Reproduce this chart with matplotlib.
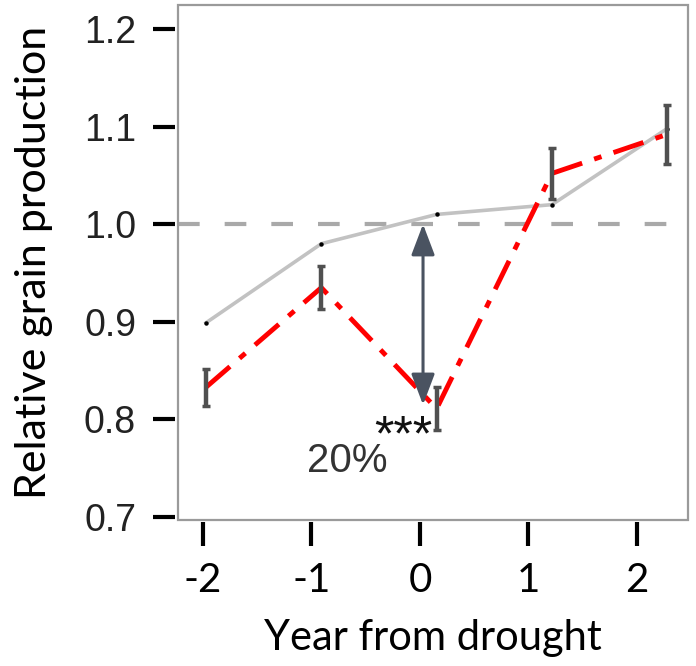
import matplotlib
matplotlib.use("Agg")
import matplotlib.pyplot as plt
from matplotlib.patches import Rectangle

# ---- data ----
years = [-2, -1, 0, 1, 2]
tick_labels = ["-2", "-1", "0", "1", "2"]
baseline = [0.899, 0.980, 1.010, 1.020, 1.098]      # gray line
drought = [0.833, 0.935, 0.811, 1.052, 1.092]       # red dash-dot line
drought_err = [0.019, 0.022, 0.022, 0.026, 0.030]
yticks = [0.7, 0.8, 0.9, 1.0, 1.1, 1.2]
ytick_labels = ["0.7", "0.8", "0.9", "1.0", "1.1", "1.2"]
reference = 1.0
drop_label = "20%"
sig_label = "***"

fig = plt.figure(figsize=(6.96, 6.66), dpi=100)
ax = fig.add_axes([178/696, 1-520/666, (688-178)/696, (520-5)/666])
ax.set_xlim(-2.243, 2.180)
ax.set_ylim(0.697, 1.2245)

for s in ax.spines.values():
    s.set_visible(False)
ax.add_patch(Rectangle((0, 0), 1, 1, transform=ax.transAxes, fill=False,
                       edgecolor="#9a9a9a", lw=1.6, clip_on=False, zorder=5))

# reference dashed line
ax.axhline(reference, color="#a9a9a9", lw=3, dashes=(5.2, 6.0), zorder=1)

# gray baseline
ax.plot(years, baseline, color="#c2c2c2", lw=2.6, zorder=2)
ax.plot(years, baseline, ls="none", marker="o", ms=2.2, color="black", zorder=3)

# red drought line
ax.plot(years, drought, color="#ff0000", lw=3.5, ls=(0, (6.5, 2.6, 1.6, 2.6)), zorder=3)
ax.errorbar(years, drought, yerr=drought_err, fmt="none", ecolor="#505050",
            elinewidth=3.2, capsize=3.2, capthick=2.5, zorder=4)

# arrow
ax.annotate("", xy=(-0.118, reference), xytext=(-0.118, drought[2] + 0.004),
            arrowprops=dict(arrowstyle="<|-|>,head_length=1.9,head_width=0.72",
                            color="#4a5361", lw=2.2, shrinkA=0, shrinkB=0), zorder=4)
ax.text(-0.29, 0.782, sig_label, fontsize=36, family="Liberation Sans",
        color="#111111", ha="center", va="center")
ax.text(-0.777, 0.757, drop_label, fontsize=29, family="Liberation Sans",
        color="#333333", ha="center", va="center")

# y axis
ax.spines["left"].set_position(("outward", 2.2))
ax.set_yticks(yticks)
ax.set_yticklabels(ytick_labels, family="Liberation Sans", fontsize=27, color="#222222")
ax.tick_params(axis="y", direction="out", length=16, width=3, color="black", pad=12)
ax.set_ylabel("Relative grain production", family="Lato", fontsize=31, labelpad=22)

# x axis: ticks on a twin axis
ax.set_xticks([])
ax2 = ax.twiny()
for s in ax2.spines.values():
    s.set_visible(False)
ax2.spines["bottom"].set_position(("outward", 1.5))
ax2.xaxis.set_ticks_position("bottom")
ax2.xaxis.set_label_position("bottom")
ax2.set_xlim(-2.230, 2.470)
ax2.set_xticks(years)
ax2.set_xticklabels(tick_labels, family="Lato", fontsize=29, color="black")
ax2.tick_params(axis="x", direction="out", length=17, width=3, color="black", pad=12)
ax2.set_xlabel("Year from drought", family="Lato", fontsize=30, labelpad=14)

fig.savefig("out.png", dpi=100)
